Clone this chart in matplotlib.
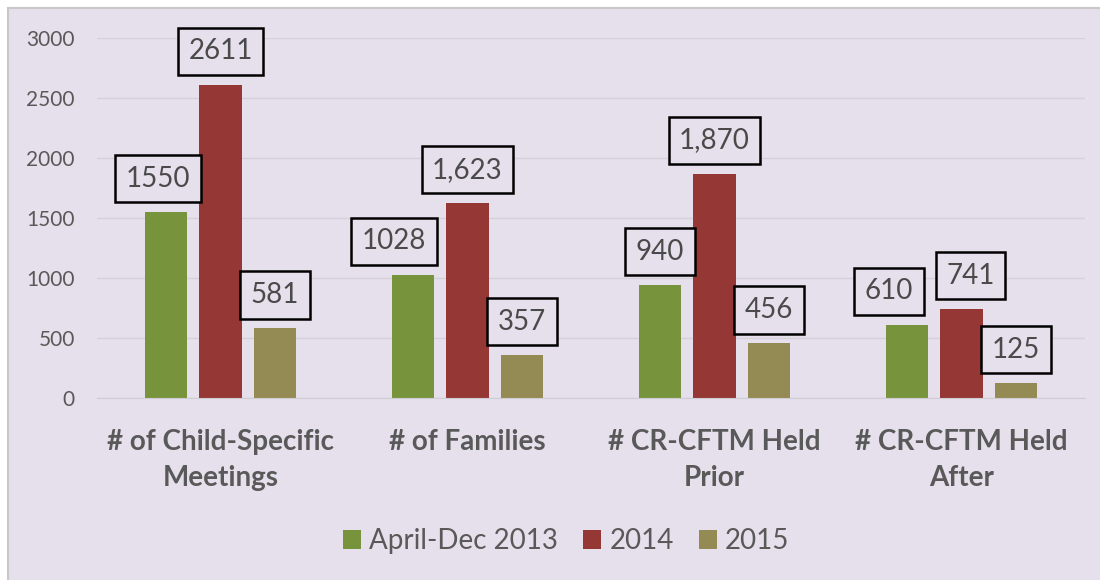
import numpy as np
import matplotlib.pyplot as plt
from matplotlib.patches import Rectangle

categories = ["# of Child-Specific\nMeetings", "# of Families", "# CR-CFTM Held\nPrior", "# CR-CFTM Held\nAfter"]
series = ["April-Dec 2013", "2014", "2015"]
v2013 = [1550, 1028, 940, 610]
v2014 = [2611, 1623, 1870, 741]
v2015 = [581, 357, 456, 125]
lab2013 = ["1550", "1028", "940", "610"]
lab2014 = ["2611", "1,623", "1,870", "741"]
lab2015 = ["581", "357", "456", "125"]
yticks = [0, 500, 1000, 1500, 2000, 2500, 3000]

# horizontal nudges (px) of the data-label boxes, as placed in the original
nudge = [[-8, -19, 0, -18], [0, 0, 0, 9], [0, 0, 0, 0]]

colors = ["#77933C", "#953735", "#948A54"]
bg = "#E6E0EC"
txt = "#595959"
plt.rcParams['font.family'] = ['Lato', 'DejaVu Sans']

fig = plt.figure(figsize=(11, 5.8), dpi=100, facecolor="white")
fig.patches.append(Rectangle((8/1100, -0.01), 1, 1 - 8/580 + 0.01, transform=fig.transFigure,
                             facecolor=bg, edgecolor="#C8C8C8", lw=1.5, zorder=-5))
ax = fig.add_axes([97/1100, 1 - 398/580, 988/1100, 360/580])
ax.patch.set_alpha(0)

x = np.arange(len(categories))
w = 0.173
step = 0.221
data = [v2013, v2014, v2015]
labs = [lab2013, lab2014, lab2015]
for i, (vals, lab) in enumerate(zip(data, labs)):
    xs = x + (i - 1) * step
    ax.bar(xs, vals, width=w, color=colors[i], label=series[i], zorder=2)
    for xi, v, t, dx in zip(xs, vals, lab, nudge[i]):
        ax.annotate(t, (xi, v), xytext=(dx * 0.72, 24), textcoords="offset points",
                    ha="center", va="center", fontsize=20, color="#4A4A4A", annotation_clip=False,
                    bbox=dict(boxstyle="square,pad=0.38", fc=bg, ec="black", lw=1.8),
                    zorder=3)

ax.set_xlim(-0.5, len(categories) - 0.5)
ax.set_ylim(0, 3000)
ax.set_yticks(yticks)
ax.set_yticklabels([str(t) for t in yticks], fontsize=15, color=txt)
ax.yaxis.grid(True, color="#D6D0DA", lw=1, zorder=0)
ax.set_axisbelow(True)
ax.set_xticks(x)
ax.set_xticklabels(categories, fontsize=20, fontweight="bold", color=txt, linespacing=1.5)
ax.tick_params(axis="both", length=0)
ax.tick_params(axis="x", pad=22)
ax.tick_params(axis="y", pad=16)
for s in ["top", "right", "left"]:
    ax.spines[s].set_visible(False)
ax.spines["bottom"].set_color("#D0CCD4")

leg = ax.legend(loc="center", bbox_to_anchor=(566/1100, 1 - 541/580), bbox_transform=fig.transFigure,
                ncol=3, frameon=False, fontsize=20, handlelength=0.65, handleheight=0.65,
                handletextpad=0.3, columnspacing=0.9)
for t in leg.get_texts():
    t.set_color(txt)

fig.savefig("out.png", dpi=100, facecolor=fig.get_facecolor())
